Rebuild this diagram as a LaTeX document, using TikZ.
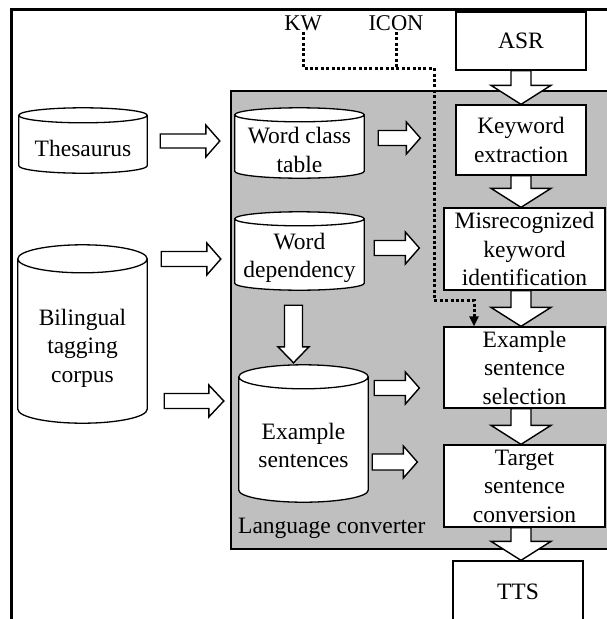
\documentclass[tikz,border=0pt]{standalone}
\usepackage{fontspec}
\setmainfont{Liberation Serif}
\usetikzlibrary{calc, backgrounds, arrows.meta, positioning}
\definecolor{convGray}{gray}{0.75}
\tikzset{
  procBox/.style={rectangle, draw=black, line width=1.3pt, fill=white, align=center, inner sep=0pt, font=\fontsize{23.5}{28.5}\selectfont},
  dbText/.style={rectangle, align=center, inner sep=0pt, font=\fontsize{23.5}{28.5}\selectfont},
  dbLine/.style={draw=black, line width=1.3pt, fill=white},
  fatArr/.style={draw=black, line width=1.4pt, fill=white, line join=miter},
  sigLine/.style={line width=3pt, dash pattern=on 3pt off 2.4pt},
  sigTip/.style={-{Triangle[length=10pt, width=9pt]}},
  sigLabel/.style={inner sep=1pt, font=\fontsize{22.5}{26}\selectfont},
}
% cylinder round a text node: node name, cap radius
\newcommand\drum[2]{%
  \draw[dbLine] let \p1=(#1.north west), \p2=(#1.south east), \n1={(\x2-\x1)/2} in
    (\x1,\y1+#2pt) -- (\x1,\y2+#2pt) arc[start angle=180, end angle=360, x radius=\n1, y radius=#2pt]
    -- (\x2,\y1+#2pt) arc[start angle=0, end angle=180, x radius=\n1, y radius=#2pt] -- cycle
    (\x1,\y1+#2pt) arc[start angle=180, end angle=360, x radius=\n1, y radius=#2pt];}
% hollow block arrows: from, to, shaft half width, head half width, head length
\newcommand\fatH[5]{%
  \draw[fatArr] let \p1=#1, \p2=#2 in
    (\x1,\y1+#3pt) -- (\x2-#5pt,\y1+#3pt) -- (\x2-#5pt,\y1+#4pt) -- (\x2,\y1)
    -- (\x2-#5pt,\y1-#4pt) -- (\x2-#5pt,\y1-#3pt) -- (\x1,\y1-#3pt) -- cycle;}
\newcommand\fatV[5]{%
  \draw[fatArr] let \p1=#1, \p2=#2 in
    (\x1-#3pt,\y1) -- (\x1-#3pt,\y2+#5pt) -- (\x1-#4pt,\y2+#5pt) -- (\x1,\y2)
    -- (\x1+#4pt,\y2+#5pt) -- (\x1+#3pt,\y2+#5pt) -- (\x1+#3pt,\y1) -- cycle;}

\begin{document}
\begin{tikzpicture}[x=1pt, y=1pt]
\useasboundingbox (0,0) rectangle (607,-619);

% Input stores
\node (thes) [dbText, minimum width=128pt, minimum height=50pt] at (83,-148) {Thesaurus};
\node (corpus) [dbText, minimum width=129pt, minimum height=150pt] at (82.5,-348) {Bilingual\\tagging\\corpus};

% Language converter stores
\node (wct) [dbText, minimum width=129pt, minimum height=56pt] at (299.5,-150) {Word class\\table};
\node (wd) [dbText, minimum width=129pt, minimum height=64pt] at (299.5,-258) {Word\\dependency};
\node (exs) [dbText, minimum width=129pt, minimum height=113pt] at (303.5,-445.5) {Example\\sentences};
\node (convLbl) [dbText, anchor=west] at (238,-528) {Language converter};

% Processing column
\node (asr) [procBox, minimum width=130pt, minimum height=58pt] at (521,-41) {ASR};
\node (kwx) [procBox, minimum width=130pt, minimum height=70pt] at (521,-140) {Keyword\\extraction};
\node (misr) [procBox, minimum width=161pt, minimum height=82pt] at (524.5,-249) {Misrecognized\\keyword\\identification};
\node (exsel) [procBox, minimum width=161pt, minimum height=81pt] at (524.5,-367.5) {Example\\sentence\\selection};
\node (tgt) [procBox, minimum width=161pt, minimum height=82pt] at (524.5,-486) {Target\\sentence\\conversion};
\node (tts) [procBox, minimum width=130pt, minimum height=62pt] at (518,-592) {TTS};

% Side inputs
\node (kwLbl) [sigLabel] at (303,-23) {KW};
\node (iconLbl) [sigLabel] at (396,-23) {ICON};

\begin{scope}[on background layer]
\draw[line width=1.5pt, fill=convGray] (231,-91) rectangle (615,-549);
\drum{thes}{7.5}
\drum{corpus}{14}
\drum{wct}{7}
\drum{wd}{7}
\drum{exs}{12}
\end{scope}

\draw[line width=3pt] (11.5,-625) -- (11.5,-9) -- (615,-9);

% Dotted keyword path
\coordinate (sigJoin) at (434,-68);
\coordinate (sigTurn) at (474,-300);
\draw[sigLine] (iconLbl.south) -- (iconLbl.south |- sigJoin);
\draw[sigLine, sigTip] (kwLbl.south) |- (sigJoin) |- (sigTurn) -- (sigTurn |- exsel.north);

% Block arrows
\fatH{($(thes.east)+(13,7)$)}{($(wct.west)+(-15,0)$)}{7}{16}{14}
\fatH{($(corpus.east |- wd.west)+(14,-1)$)}{($(wd.west)+(-14,0)$)}{7.5}{16}{14}
\fatH{($(corpus.east)+(17,-53)$)}{($(exs.west)+(-15,0)$)}{7.5}{16}{15}
\fatH{($(wct.east)+(14,12)$)}{($(kwx.west)+(-35,0)$)}{7.5}{16}{14}
\fatH{($(wd.east)+(10,10)$)}{($(misr.west)+(-24,0)$)}{7.5}{16}{14}
\fatH{($(exs.east)+(6,57.5)$)}{($(exsel.west)+(-24,0)$)}{7.5}{16}{14}
\fatH{($(exs.east)+(4,-16.5)$)}{($(tgt.west)+(-26,0)$)}{8}{16}{14}
\fatV{($(wd.south)+(-6,-15)$)}{($(exs.north)+(0,26)$)}{9}{15.5}{16}

\fatV{(asr.south)}{(kwx.north)}{10}{30}{19}
\fatV{(kwx.south)}{(misr.north -| kwx.south)}{10}{30}{19}
\fatV{(misr.south -| kwx.south)}{(exsel.north)}{10}{30}{19}
\fatV{(exsel.south -| kwx.south)}{(tgt.north)}{10}{30}{19}
\fatV{(tgt.south -| kwx.south)}{(tts.north -| kwx.south)}{10}{30}{19}
\end{tikzpicture}
\end{document}
